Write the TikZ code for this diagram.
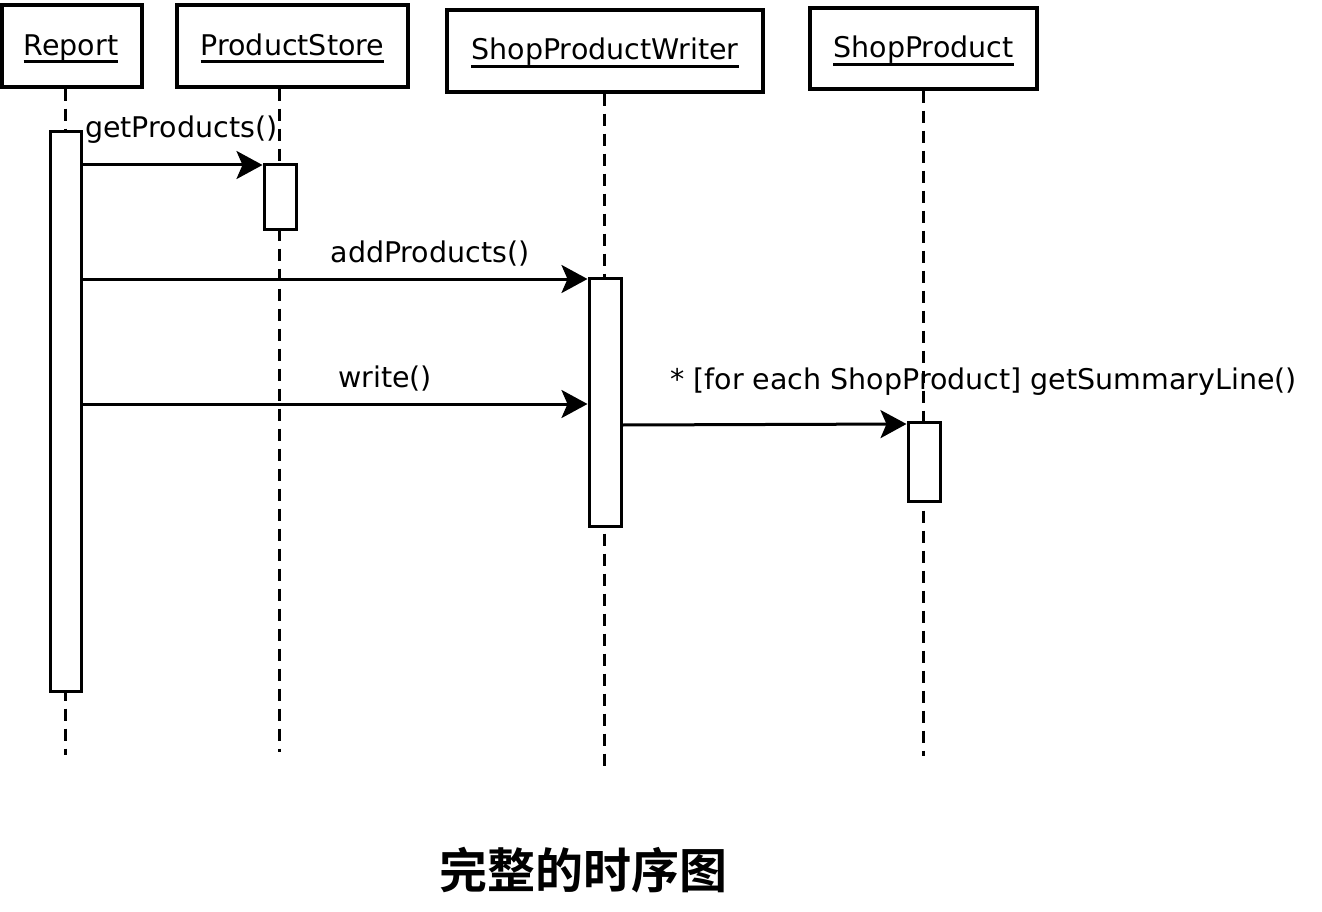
\documentclass[tikz,border=0pt]{standalone}
\usepackage{fontspec}
\setmainfont{DejaVu Sans}
\newfontfamily\cjk{Noto Sans CJK SC Bold}
\usetikzlibrary{arrows.meta}
\tikzset{
  obj/.style={draw, line width=3.2pt, fill=white, inner sep=0pt},
  act/.style={draw, line width=3pt, fill=white, inner sep=0pt},
  life/.style={line width=3pt, dash pattern=on 12pt off 8pt},
  msg/.style={line width=3pt, -{Stealth[length=26pt,width=28pt,inset=6pt]}},
  lbl/.style={font=\fontsize{28.5}{32}\selectfont, inner sep=0pt},
  ul/.style={line width=3pt},
}
\begin{document}
\begin{tikzpicture}[x=1pt,y=-1pt]
\useasboundingbox (0,0) rectangle (1322,912);
% object boxes
\node[obj, minimum width=140pt, minimum height=82pt] (rep) at (72,46) {};
\node[lbl, anchor=base] (repT) at (71,56) {Report};
\draw[ul] (repT.west |- 0,62) -- (repT.east |- 0,62);
\node[obj, minimum width=231pt, minimum height=82pt] (ps) at (292.5,46) {};
\node[lbl, anchor=base] (psT) at (292.5,56) {ProductStore};
\draw[ul] (psT.west |- 0,62) -- (psT.east |- 0,62);
\node[obj, minimum width=316pt, minimum height=82pt] (spw) at (605,51) {};
\node[lbl, anchor=base] (spwT) at (605,60) {ShopProductWriter};
\draw[ul] (spwT.west |- 0,67) -- (spwT.east |- 0,67);
\node[obj, minimum width=227pt, minimum height=81pt] (sp) at (923.5,48.5) {};
\node[lbl, anchor=base] (spT) at (923.5,58) {ShopProduct};
\draw[ul] (spT.west |- 0,65) -- (spT.east |- 0,65);
% lifelines
\coordinate (repEnd) at (65,755);
\coordinate (psEnd) at (279,752);
\coordinate (spwEnd) at (604,767);
\coordinate (spEnd) at (923,756);
\draw[life] (rep.south -| repEnd) -- (repEnd);
\draw[life] (ps.south -| psEnd) -- (psEnd);
\draw[life] (spw.south -| spwEnd) -- (spwEnd);
\draw[life] (sp.south -| spEnd) -- (spEnd);
% activations
\node[act, minimum width=31pt, minimum height=559pt] (a1) at (65.5,411.5) {};
\node[act, minimum width=32pt, minimum height=64pt] (a2) at (280,197) {};
\node[act, minimum width=32pt, minimum height=248pt] (a3) at (605,402) {};
\node[act, minimum width=32pt, minimum height=79pt] (a4) at (924,461.5) {};
% messages
\draw[msg] (a1.east |- 0,165) -- (a2.west |- 0,165);
\node[lbl, anchor=west] at (85,130) {getProducts()};
\draw[msg] (a1.east |- 0,279) -- (a3.west |- 0,279);
\node[lbl] at (430,254) {addProducts()};
\draw[msg] (a1.east |- 0,404) -- (a3.west |- 0,404);
\node[lbl] at (385,379) {write()};
\draw[msg] (a3.east |- 0,425) -- (a4.west |- 0,424);
\node[lbl, anchor=west] at (670,382) {* [for each ShopProduct] getSummaryLine()};
% caption
\node[font=\cjk\fontsize{48}{54}\selectfont, inner sep=0pt] (cap) at (583,870) {完整的时序图};
\end{tikzpicture}
\end{document}
